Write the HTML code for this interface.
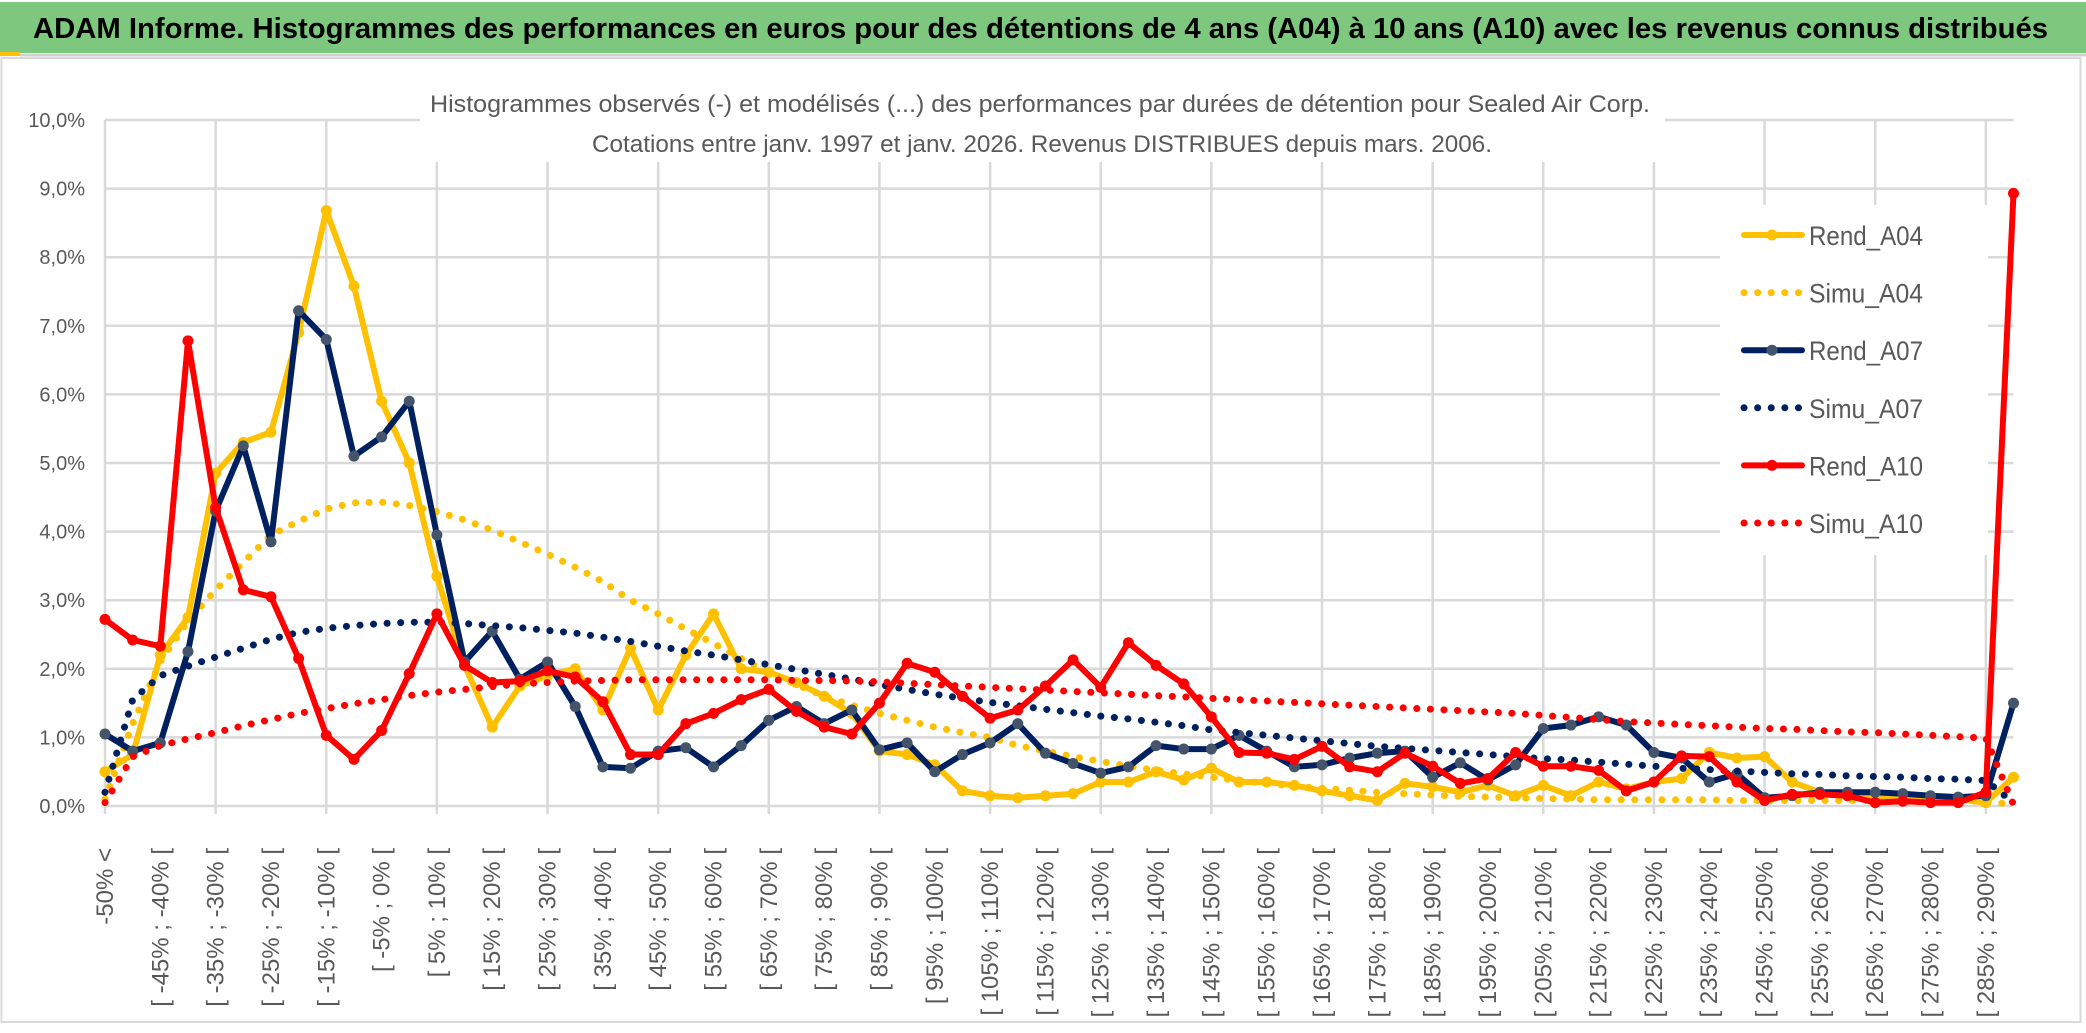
<!DOCTYPE html>
<html><head><meta charset="utf-8"><style>
html,body{margin:0;padding:0;background:#fff;}
svg{display:block;font-family:"Liberation Sans",sans-serif;}
</style></head><body>
<svg id="chart" width="2086" height="1033" viewBox="0 0 2086 1033" xmlns="http://www.w3.org/2000/svg">
<rect x="0" y="0" width="2086" height="1033" fill="#fff"/>
<rect x="0" y="2" width="2086" height="51" fill="#7DC87E"/>
<rect x="0" y="52" width="20" height="4" fill="#FFC000"/>
<line x1="20" y1="55" x2="2086" y2="55" stroke="#d0d0d0" stroke-width="3"/>
<text x="33" y="38" font-size="29" font-weight="bold" fill="#000" textLength="2015" lengthAdjust="spacingAndGlyphs">ADAM Informe. Histogrammes des performances en euros pour des détentions de 4 ans (A04) à 10 ans (A10) avec les revenus connus distribués</text>
<rect x="1.5" y="58" width="2079" height="964" fill="none" stroke="#d9d9d9" stroke-width="2"/>
<g id="grid"></g>
<g id="yaxis"></g>
<g id="xaxis"></g>
<rect x="420" y="78" width="1245" height="84" fill="#fff"/>
<text x="1040" y="112" font-size="24" fill="#595959" text-anchor="middle" textLength="1220" lengthAdjust="spacingAndGlyphs">Histogrammes observés (-) et modélisés (...) des performances par durées de détention pour Sealed Air Corp.</text>
<text x="1042" y="152" font-size="24" fill="#595959" text-anchor="middle" textLength="900" lengthAdjust="spacingAndGlyphs">Cotations entre janv. 1997 et janv. 2026. Revenus DISTRIBUES depuis mars. 2006.</text>
<rect x="1720" y="205" width="268" height="350" fill="#fff"/>
<g id="series"></g>
<g id="legend"></g>
</svg>
<script>
const categories = ["-50% <"];
for (let k = 1; k < 70; k++) { categories.push("[ " + (-50 + 5 * (k - 1)) + "% ; " + (-45 + 5 * (k - 1)) + "% ["); }
const yTicks = [0,1,2,3,4,5,6,7,8,9,10];
const yTickLabels = ["0,0%","1,0%","2,0%","3,0%","4,0%","5,0%","6,0%","7,0%","8,0%","9,0%","10,0%"];
const rendA04 = [0.5,0.75,2.2,2.75,4.85,5.3,5.45,6.9,8.68,7.58,5.9,5.0,3.35,2.05,1.15,1.75,1.9,2.0,1.4,2.3,1.4,2.2,2.8,2.0,1.95,1.8,1.6,1.35,0.8,0.75,0.6,0.22,0.15,0.12,0.15,0.18,0.35,0.35,0.5,0.38,0.55,0.35,0.35,0.3,0.22,0.15,0.08,0.33,0.28,0.2,0.3,0.15,0.3,0.15,0.35,0.25,0.35,0.4,0.78,0.7,0.72,0.35,0.2,0.15,0.15,0.12,0.1,0.1,0.05,0.42];
const simuA04 = [0.1,1.2,2.1,2.7,3.15,3.55,3.95,4.15,4.33,4.42,4.43,4.38,4.29,4.17,4.02,3.85,3.67,3.48,3.27,3.0,2.8,2.58,2.37,2.15,1.95,1.77,1.6,1.47,1.35,1.25,1.15,1.07,1.0,0.88,0.8,0.72,0.65,0.58,0.52,0.47,0.42,0.37,0.33,0.29,0.26,0.23,0.2,0.18,0.16,0.14,0.13,0.12,0.11,0.1,0.09,0.09,0.09,0.09,0.09,0.08,0.08,0.08,0.08,0.08,0.08,0.07,0.07,0.07,0.07,0.02];
const rendA07 = [1.05,0.8,0.92,2.25,4.3,5.25,3.85,7.22,6.8,5.1,5.38,5.9,3.95,2.1,2.55,1.85,2.1,1.45,0.57,0.55,0.8,0.85,0.57,0.88,1.25,1.45,1.2,1.4,0.82,0.92,0.5,0.75,0.92,1.2,0.77,0.62,0.48,0.57,0.88,0.83,0.83,1.03,0.8,0.57,0.6,0.7,0.77,0.8,0.42,0.63,0.38,0.6,1.13,1.18,1.3,1.18,0.78,0.7,0.35,0.47,0.12,0.15,0.2,0.2,0.2,0.18,0.15,0.13,0.15,1.5];
const simuA07 = [0.2,1.55,1.9,2.04,2.17,2.3,2.43,2.53,2.59,2.63,2.66,2.68,2.68,2.66,2.63,2.6,2.56,2.52,2.46,2.4,2.33,2.26,2.2,2.13,2.06,1.99,1.92,1.85,1.77,1.7,1.63,1.57,1.51,1.46,1.41,1.36,1.31,1.27,1.22,1.17,1.11,1.07,1.03,0.99,0.95,0.91,0.87,0.84,0.81,0.78,0.75,0.72,0.69,0.67,0.64,0.61,0.58,0.55,0.53,0.51,0.49,0.47,0.46,0.44,0.43,0.42,0.4,0.39,0.37,0.05];
const rendA10 = [2.72,2.42,2.33,6.78,4.35,3.15,3.05,2.15,1.03,0.68,1.1,1.93,2.8,2.05,1.8,1.82,1.97,1.88,1.52,0.75,0.75,1.2,1.35,1.55,1.7,1.38,1.15,1.05,1.5,2.08,1.95,1.6,1.28,1.4,1.75,2.13,1.73,2.38,2.05,1.78,1.3,0.78,0.77,0.68,0.87,0.57,0.5,0.77,0.58,0.33,0.4,0.78,0.58,0.58,0.52,0.22,0.35,0.73,0.72,0.35,0.08,0.17,0.17,0.15,0.05,0.07,0.05,0.05,0.2,8.93];
const simuA10 = [0.05,0.72,0.88,0.98,1.07,1.17,1.26,1.35,1.42,1.49,1.55,1.61,1.66,1.7,1.74,1.78,1.8,1.82,1.83,1.84,1.84,1.84,1.84,1.84,1.84,1.83,1.83,1.82,1.81,1.79,1.77,1.75,1.73,1.71,1.69,1.67,1.65,1.63,1.61,1.59,1.57,1.55,1.53,1.51,1.49,1.47,1.45,1.43,1.41,1.39,1.37,1.35,1.32,1.29,1.26,1.23,1.21,1.19,1.17,1.15,1.13,1.12,1.1,1.08,1.07,1.05,1.03,1.01,0.99,0.02];
const seriesNames = ["Rend_A04","Simu_A04","Rend_A07","Simu_A07","Rend_A10","Simu_A10"];

const NS = "http://www.w3.org/2000/svg";
const X0 = 105, X1 = 2013.5, Y0 = 806, PER = 68.6;
function xPos(i){ return X0 + i * (X1 - X0) / (categories.length - 1); }
function yPos(v){ return Y0 - v * PER; }
function mk(tag, attrs, parent){ const e = document.createElementNS(NS, tag); for (const k in attrs) e.setAttribute(k, attrs[k]); parent.appendChild(e); return e; }

const grid = document.getElementById('grid');
yTicks.forEach((t, k) => {
  const l = mk('line', {x1: X0, x2: X1, y1: yPos(t), y2: yPos(t), stroke: '#d9d9d9', 'stroke-width': 2.5}, grid);
  
  
});
for (let i = 0; i < categories.length; i += 4) {
  const l = mk('line', {x1: xPos(i), x2: xPos(i), y1: yPos(10), y2: Y0 + 8, stroke: '#d9d9d9', 'stroke-width': 2.5}, grid);
  
  
}
const yaxis = document.getElementById('yaxis');
yTicks.forEach((t, k) => {
  const tx = mk('text', {x: 85, y: yPos(t) + 7, 'font-size': 20, fill: '#595959', 'text-anchor': 'end'}, yaxis);
  tx.textContent = yTickLabels[k];
  
  
});
const xaxis = document.getElementById('xaxis');
for (let i = 0; i < categories.length; i += 2) {
  const x = xPos(i) + 8, y = 848;
  const tx = mk('text', {x: x, y: y, 'font-size': 24, fill: '#595959', 'text-anchor': 'end', transform: 'rotate(-90 ' + x + ' ' + y + ')'}, xaxis);
  tx.textContent = categories[i];
  
  
}

const seriesG = document.getElementById('series');
function drawSolid(vals, color, mcolor, name){
  const pts = vals.map((v, i) => xPos(i).toFixed(1) + ',' + yPos(v).toFixed(1)).join(' ');
  const pl = mk('polyline', {points: pts, fill: 'none', stroke: color, 'stroke-width': 6, 'stroke-linejoin': 'round'}, seriesG);
  
  
  vals.forEach((v, i) => {
    const c = mk('circle', {cx: xPos(i), cy: yPos(v), r: 5.5, fill: mcolor}, seriesG);
    
    
  });
}
function drawDotted(vals, color, name){
  const pts = vals.map((v, i) => xPos(i).toFixed(1) + ',' + yPos(v).toFixed(1)).join(' ');
  const pl = mk('polyline', {points: pts, fill: 'none', stroke: color, 'stroke-width': 7, 'stroke-linecap': 'round', 'stroke-dasharray': '0.1 13.5'}, seriesG);
  
  
}
drawSolid(rendA04, '#FFC000', '#FFC000', 'rend-a04');
drawDotted(simuA04, '#FFC000', 'simu-a04');
drawSolid(rendA07, '#002060', '#44546A', 'rend-a07');
drawDotted(simuA07, '#002060', 'simu-a07');
drawSolid(rendA10, '#FF0000', '#FF0000', 'rend-a10');
drawDotted(simuA10, '#FF0000', 'simu-a10');

const legend = document.getElementById('legend');
const legColors = ['#FFC000','#FFC000','#002060','#002060','#FF0000','#FF0000'];
const legMarker = ['#FFC000',null,'#44546A',null,'#FF0000',null];
seriesNames.forEach((n, k) => {
  const y = 235 + k * 57.6;
  const g = mk('g', {}, legend);
  
  
  if (legMarker[k]) {
    mk('line', {x1: 1744, x2: 1802, y1: y, y2: y, stroke: legColors[k], 'stroke-width': 6, 'stroke-linecap': 'round'}, g);
    mk('circle', {cx: 1772, cy: y, r: 5.5, fill: legMarker[k]}, g);
  } else {
    mk('line', {x1: 1744, x2: 1802, y1: y, y2: y, stroke: legColors[k], 'stroke-width': 7, 'stroke-linecap': 'round', 'stroke-dasharray': '0.1 13.5'}, g);
  }
  const t = mk('text', {x: 1809, y: y + 10, 'font-size': 27, fill: '#595959', textLength: 114, lengthAdjust: 'spacingAndGlyphs'}, g);
  t.textContent = n;
});
</script>
</body></html>
